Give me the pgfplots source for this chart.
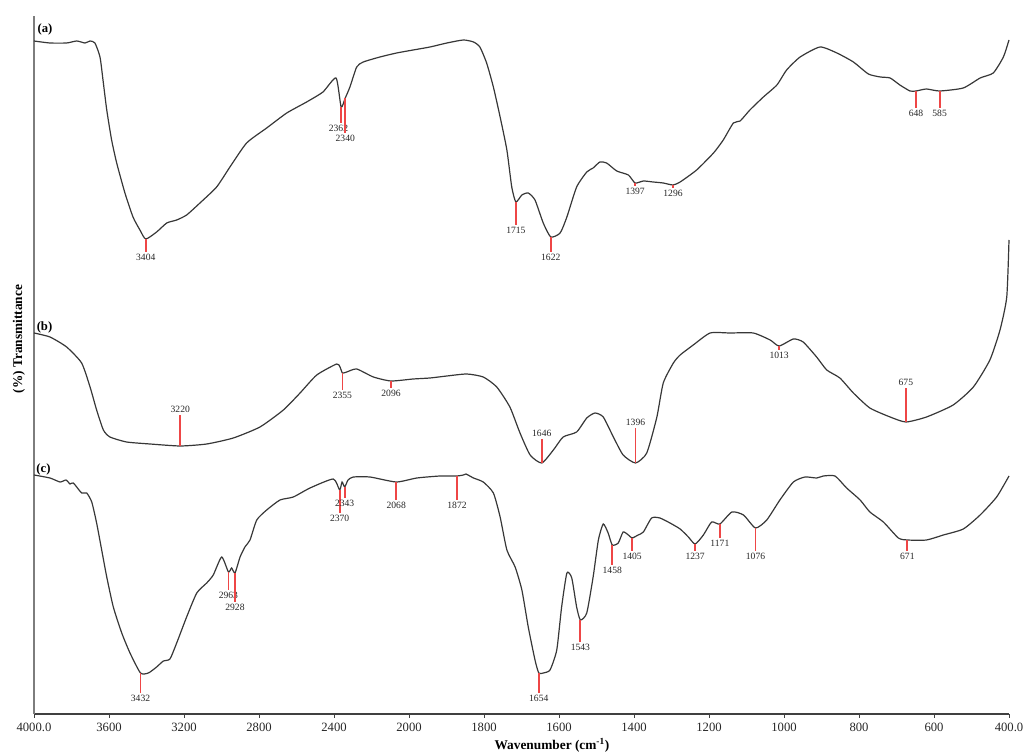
\documentclass[border=0pt]{standalone}
\usepackage{pgfplots}
\pgfplotsset{compat=1.18}
\usepackage{fontspec}
\setmainfont{Liberation Serif}
\definecolor{curve}{RGB}{55,55,55}
\definecolor{pkred}{RGB}{238,70,70}
\definecolor{axgray}{RGB}{125,125,125}
\newcommand{\pk}[4]{\addplot[pkred, line width=1.4pt] coordinates {(#1,#2) (#1,#3)} node[pos=1,#4, text=black!85, font=\fontsize{7.2}{8}\selectfont, inner sep=1pt] {#1};}
\begin{document}
\begin{tikzpicture}[x=0.75pt,y=0.75pt]
\useasboundingbox (-34,-39) rectangle (991,714);
\begin{axis}[
  at={(0,0)}, anchor=south west,
  scale only axis, width=731.25pt, height=523.5pt,
  xmin=0, xmax=13, ymin=0, ymax=698,
  axis x line=bottom, axis y line=left,
  axis line style={-},
  x axis line style={black!75, line width=0.8pt},
  y axis line style={axgray, line width=1pt},
  xtick={0,1,2,3,4,5,6,7,8,9,10,11,12,13},
  xticklabels={4000.0,3600,3200,2800,2400,2000,1800,1600,1400,1200,1000,800,600,400.0},
  ytick=\empty,
  tick align=outside, major tick length=3pt,
  x tick style={black!75, line width=0.6pt},
  xticklabel style={font=\fontsize{9.5}{10}\selectfont, text=black!85},
  x filter/.expression={(4000-max(x,2000))/400+(2000-min(x,2000))/200},
  clip=false,
]
% (a)
\addplot[curve, line width=0.9pt, smooth, tension=0.35] coordinates {
(4000,673) (3915,671) (3826,671) (3772,673) (3728,671) (3701,673) (3675,671)
(3648,657) (3632,634) (3612,604) (3586,574) (3559,551) (3515,521) (3472,497)
(3435,484) (3404,475) (3346,482) (3292,491) (3239,494) (3186,499) (3115,511)
(3026,527) (2955,547) (2866,571) (2759,586) (2652,601) (2546,612) (2459,622)
(2389,636) (2362,607) (2340,616) (2315,627) (2279,647) (2244,652) (2155,657)
(2066,661) (1989,664) (1944,667) (1899,671) (1855,674) (1828,672) (1811,667)
(1793,651) (1775,627) (1757,597) (1739,564) (1726,527) (1715,512) (1699,519)
(1682,521) (1664,514) (1642,491) (1622,477) (1597,481) (1579,497) (1553,527)
(1526,542) (1509,546) (1491,552) (1473,551) (1446,543) (1415,539) (1397,531)
(1375,533) (1349,532) (1322,531) (1296,529) (1277,532) (1233,544) (1188,561)
(1162,574) (1135,591) (1117,593) (1091,604) (1055,617) (1019,629) (993,644)
(957,657) (904,667) (859,661) (815,652) (775,640) (743,637) (717,636) (691,629)
(664,623) (648,623) (620,625) (585,623) (522,626) (477,636) (442,641) (415,657)
(400,674)
};
% (b)
\addplot[curve, line width=0.9pt, smooth, tension=0.35] coordinates {
(4000,381) (3915,377) (3826,367) (3746,351) (3701,327) (3666,304) (3630,284)
(3595,277) (3506,272) (3381,270) (3220,268) (3079,270) (2937,276) (2795,287)
(2670,304) (2581,321) (2492,339) (2386,350) (2368,347) (2355,341) (2332,342)
(2279,345) (2190,337) (2096,333) (1989,335) (1944,336) (1899,338) (1846,340)
(1802,337) (1766,327) (1731,307) (1704,281) (1677,259) (1646,251) (1615,264)
(1589,277) (1553,282) (1526,296) (1504,301) (1482,297) (1455,277) (1429,259)
(1396,251) (1366,261) (1339,297) (1322,331) (1295,351) (1277,359) (1242,369)
(1197,381) (1144,381) (1082,381) (1037,374) (1013,368) (975,375) (949,372)
(913,357) (886,344) (851,336) (815,321) (771,306) (717,297) (675,292) (620,297)
(549,309) (495,327) (451,354) (424,384) (406,417) (400,474)
};
% (c)
\addplot[curve, line width=0.9pt, smooth, tension=0.35] coordinates {
(4000,239) (3915,236) (3861,232) (3829,234) (3808,230) (3790,231) (3746,221)
(3719,221) (3692,212) (3666,191) (3639,164) (3612,137) (3577,107) (3532,81)
(3488,61) (3432,41) (3390,41) (3346,47) (3310,53) (3275,55) (3239,71) (3186,97)
(3132,121) (3079,131) (3044,139) (2999,157) (2963,142) (2946,146) (2928,141)
(2901,157) (2875,167) (2848,174) (2812,194) (2759,204) (2688,214) (2617,217)
(2528,226) (2404,235) (2370,224) (2357,232) (2343,227) (2325,234) (2297,237)
(2208,237) (2068,232) (1979,236) (1917,238) (1872,238) (1855,239) (1848,240)
(1828,236) (1802,232) (1775,221) (1757,197) (1739,164) (1717,147) (1699,124)
(1682,87) (1664,54) (1654,41) (1642,41) (1624,44) (1606,64) (1593,107)
(1579,141) (1566,136) (1553,107) (1543,94) (1526,101) (1509,137) (1495,174)
(1482,190) (1469,181) (1458,169) (1442,171) (1429,182) (1415,179) (1405,176)
(1389,179) (1375,182) (1353,196) (1331,196) (1304,191) (1277,185) (1255,177)
(1237,170) (1215,179) (1193,192) (1171,190) (1139,202) (1108,199) (1076,186)
(1046,194) (1011,214) (975,232) (944,237) (913,236) (895,238) (864,238)
(833,226) (797,214) (771,202) (735,192) (695,176) (671,174) (620,174)
(575,179) (522,185) (477,199) (433,217) (400,238)
};
% peak markers (a)
\pk{3404}{475}{462}{below}
\pk{2362}{607}{591}{below, xshift=-2pt}
\pk{2340}{616}{581}{below}
\pk{1715}{512}{489}{below}
\pk{1622}{477}{462}{below}
\pk{1397}{531}{528}{below}
\pk{1296}{529}{526}{below}
\pk{648}{623}{606}{below}
\pk{585}{623}{606}{below}
% (b)
\pk{3220}{268}{299}{above}
\pk{2355}{341}{324}{below}
\pk{2096}{333}{326}{below}
\pk{1646}{251}{275}{above}
\pk{1396}{251}{286}{above}
\pk{1013}{368}{364}{below}
\pk{675}{292}{326}{above}
% (c)
\pk{3432}{41}{21}{below}
\pk{2963}{142}{124}{below}
\pk{2928}{141}{112}{below}
\pk{2370}{224}{201}{below}
\pk{2343}{227}{216}{below}
\pk{2068}{232}{214}{below}
\pk{1872}{238}{214}{below}
\pk{1654}{41}{21}{below}
\pk{1543}{94}{72}{below}
\pk{1458}{169}{149}{below}
\pk{1405}{176}{163}{below}
\pk{1237}{170}{163}{below}
\pk{1171}{190}{176}{below}
\pk{1076}{186}{163}{below}
\pk{671}{174}{163}{below}
\end{axis}
\node[font=\bfseries\fontsize{9.5}{10}\selectfont] at (11,685) {(a)};
\node[font=\bfseries\fontsize{9.5}{10}\selectfont] at (10.5,387) {(b)};
\node[font=\bfseries\fontsize{9.5}{10}\selectfont] at (9.5,244.5) {(c)};
\node[font=\bfseries\fontsize{10}{11}\selectfont, rotate=90] at (-15,375) {(\%) Transmittance};
\node[font=\bfseries\fontsize{10}{11}\selectfont] at (518,-31) {Wavenumber (cm\textsuperscript{-1})};
\end{tikzpicture}
\end{document}
